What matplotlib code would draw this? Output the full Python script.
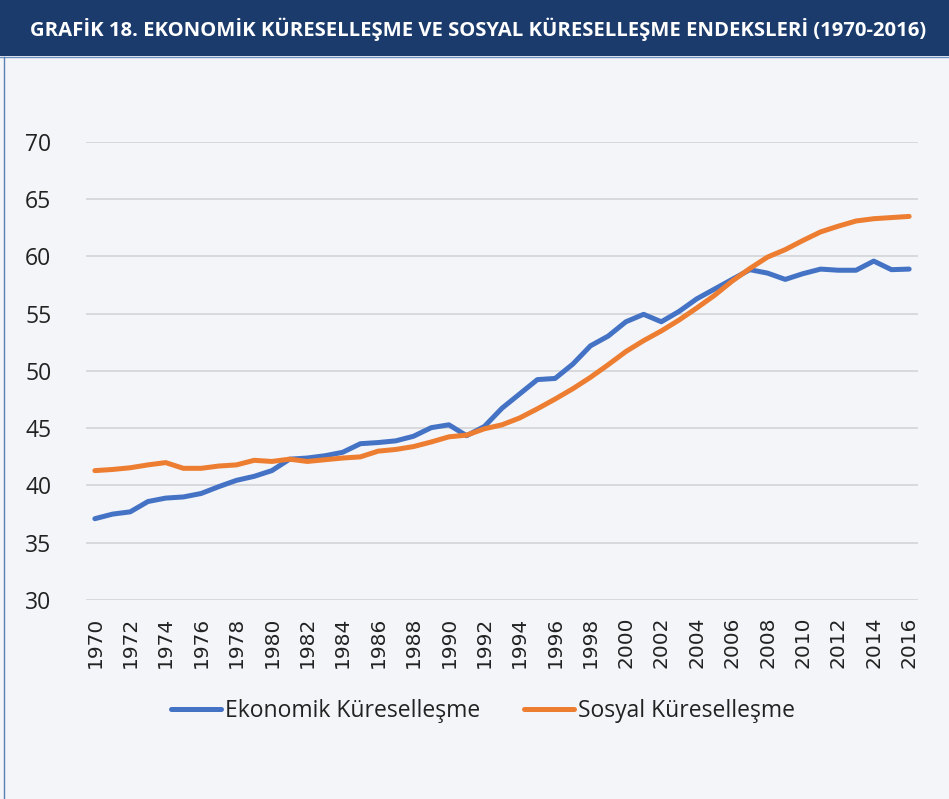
import numpy as np
import matplotlib
matplotlib.use("Agg")
import matplotlib.pyplot as plt

plt.rcParams['font.family'] = ['Open Sans', 'DejaVu Sans']

years = list(range(1970, 2017))

ekonomik = [37.1, 37.5, 37.7, 38.6, 38.9, 39.0, 39.3, 39.9, 40.45, 40.8,
            41.3, 42.3, 42.4, 42.6, 42.9, 43.65, 43.75, 43.9, 44.3, 45.05,
            45.3, 44.35, 45.15, 46.75, 48.0, 49.25, 49.35, 50.6, 52.2, 53.05,
            54.3, 54.95, 54.3, 55.2, 56.3, 57.15, 58.0, 58.85, 58.55, 58.0,
            58.5, 58.9, 58.8, 58.8, 59.6, 58.85, 58.9]

sosyal = [41.3, 41.4, 41.55, 41.8, 42.0, 41.5, 41.5, 41.7, 41.8, 42.2,
          42.1, 42.3, 42.1, 42.25, 42.4, 42.5, 43.0, 43.15, 43.4, 43.8,
          44.25, 44.4, 44.95, 45.3, 45.9, 46.7, 47.55, 48.45, 49.45, 50.55,
          51.7, 52.65, 53.5, 54.45, 55.5, 56.6, 57.85, 58.95, 59.95, 60.6,
          61.4, 62.15, 62.65, 63.1, 63.3, 63.4, 63.5]

series_names = ['Ekonomik Küreselleşme', 'Sosyal Küreselleşme']
title = 'GRAFİK 18. EKONOMİK KÜRESELLEŞME VE SOSYAL KÜRESELLEŞME ENDEKSLERİ (1970-2016)'

W, H = 949, 799
bg = '#f3f5f9'
fig = plt.figure(figsize=(W / 100, H / 100), dpi=100, facecolor=bg)

# header band
fig.patches.append(plt.Rectangle((0, 1 - 56 / H), 1, 56 / H, transform=fig.transFigure,
                                 facecolor='#1b3b6c', edgecolor='none', zorder=0))
fig.add_artist(plt.Line2D([0, 1], [1 - 56.5 / H, 1 - 56.5 / H], transform=fig.transFigure,
                          color='#6f8fbf', lw=1))
fig.text(30 / W, 1 - 29 / H, title, color='white', fontsize=14.6, fontweight='bold',
         ha='left', va='center')
# left frame line
fig.add_artist(plt.Line2D([4 / W, 4 / W], [0, 1 - 57 / H], transform=fig.transFigure,
                          color='#5a7fb5', lw=1))

ax = fig.add_axes([86 / W, 1 - 600 / H, (918 - 86) / W, (600 - 142) / H])
ax.set_facecolor(bg)

ax.plot(years, ekonomik, color='#4472c4', lw=3.6, solid_capstyle='round',
        solid_joinstyle='round', label=series_names[0], zorder=3)
ax.plot(years, sosyal, color='#ed7d31', lw=3.6, solid_capstyle='round',
        solid_joinstyle='round', label=series_names[1], zorder=3)

ax.set_xlim(1969.5, 2016.5)
ax.set_ylim(30, 70)
ax.set_yticks(range(30, 71, 5))
ax.set_xticks(years[::2])
ax.set_xticklabels([str(y) for y in years[::2]], rotation=90, family='DejaVu Sans')
ax.tick_params(axis='both', length=0, colors='#222222')
ax.tick_params(axis='y', pad=25, labelsize=16.5)
ax.tick_params(axis='x', pad=12, labelsize=14.5)
ax.grid(axis='y', color='#d6d7db', lw=1.3)
ax.set_axisbelow(True)
for s in ax.spines.values():
    s.set_visible(False)

fig.legend(loc='center', bbox_to_anchor=(483 / W, 1 - 711 / H), ncol=2, frameon=False,
           fontsize=16.5, handlelength=2.2, handletextpad=0.18, columnspacing=1.9,
           labelcolor='#222222')

fig.savefig('out.png', dpi=100, facecolor=bg)
